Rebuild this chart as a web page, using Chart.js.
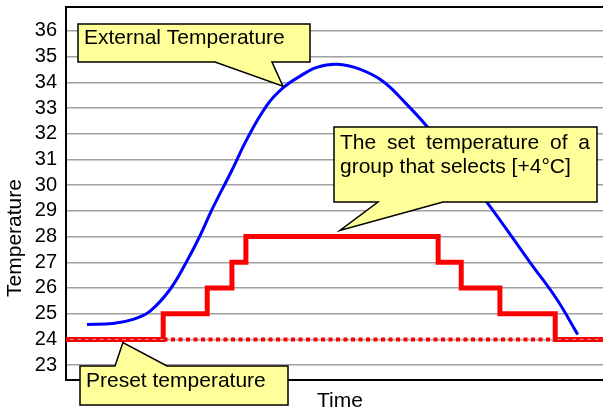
<!DOCTYPE html>
<html>
<head>
<meta charset="utf-8">
<script src="https://cdn.jsdelivr.net/npm/chart.js@4/dist/chart.umd.min.js"></script>
<style>
    html, body { margin: 0; padding: 0; background: #fff; }
    #chart { display: block; }
</style>
</head>
<body>
<canvas id="chart" width="603" height="412"></canvas>
<script>
// y axis labels
const tempTicks = [23, 24, 25, 26, 27, 28, 29, 30, 31, 32, 33, 34, 35, 36];

// outside temperature over the day (time axis runs 0..100)
const outsideTime = [3.9, 8.75, 12.5, 15.6, 19.4, 22.5, 25, 27.2, 30.9, 33.7, 37.4, 40.4, 43.6, 46.7, 50.5, 54.7, 59.0, 63.1, 67.2, 72.8, 78.4, 86.4, 91.4, 95.3];
const outsideTemp = [24.58, 24.62, 24.78, 25.09, 25.95, 27.04, 28.05, 29.06, 30.58, 31.79, 33.1, 33.78, 34.24, 34.58, 34.70, 34.51, 34.04, 33.22, 32.29, 30.81, 29.33, 27.0, 25.56, 24.19];

// group set temperature, one step per degree
const setTime = [0, 18.1, 26.3, 30.9, 33.5, 69.3, 73.6, 80.8, 91.1, 100];
const setTemp = [24, 25, 26, 27, 28, 27, 26, 25, 24, 24];

const presetTime = [0, 100];
const presetTemp = [24, 24];

const FONT = '"Liberation Sans", Arial, sans-serif';

const pts = (xs, ys) => xs.map((x, i) => ({ x, y: ys[i] }));

// speech-bubble notes; box/base in canvas px, tip in data units
const callouts = [
    { lines: ["External Temperature"], box: [78, 24, 310, 62], side: "bottom", base: [215, 272], tip: [40.4, 33.85], textX: 84, baselines: [44] },
    { lines: ["The set temperature of a", "group that selects [+4°C]"], justify: [true, false], box: [334, 127, 597, 202], side: "bottom", base: [378, 443], tip: [51.0, 28.24], textX: 340, textRight: 590, baselines: [149, 173] },
    { lines: ["Preset temperature"], box: [80, 366, 288, 405], side: "top", base: [115, 167], tip: [10.6, 23.88], textX: 86, baselines: [387] },
];

function drawJustified(ctx, text, x, right, y) {
    const words = text.split(" ");
    const widths = words.map((w) => ctx.measureText(w).width);
    const total = widths.reduce((a, b) => a + b, 0);
    const gap = (right - x - total) / (words.length - 1);
    let cx = x;
    words.forEach((w, i) => {
        ctx.fillText(w, cx, y);
        cx += widths[i] + gap;
    });
}

const decorations = {
    id: "decorations",
    afterDraw(chart) {
        const { ctx, chartArea, scales } = chart;
        ctx.save();

        // top frame line
        ctx.strokeStyle = "#000";
        ctx.lineWidth = 2;
        ctx.beginPath();
        ctx.moveTo(chartArea.left - 1, chartArea.top);
        ctx.lineTo(chartArea.right, chartArea.top);
        ctx.stroke();

        // axis titles
        ctx.fillStyle = "#000";
        ctx.font = "21px " + FONT;
        ctx.textAlign = "center";
        ctx.textBaseline = "middle";
        ctx.fillText("Time", 340, 401);
        ctx.save();
        ctx.translate(15, 238);
        ctx.rotate(-Math.PI / 2);
        ctx.fillText("Temperature", 0, 0);
        ctx.restore();

        // callouts
        callouts.forEach((c) => {
            const [l, t, r, b] = c.box;
            const tx = scales.x.getPixelForValue(c.tip[0]);
            const ty = scales.y.getPixelForValue(c.tip[1]);
            ctx.beginPath();
            if (c.side === "bottom") {
                ctx.moveTo(l, t);
                ctx.lineTo(r, t);
                ctx.lineTo(r, b);
                ctx.lineTo(c.base[1], b);
                ctx.lineTo(tx, ty);
                ctx.lineTo(c.base[0], b);
                ctx.lineTo(l, b);
            } else {
                ctx.moveTo(l, t);
                ctx.lineTo(c.base[0], t);
                ctx.lineTo(tx, ty);
                ctx.lineTo(c.base[1], t);
                ctx.lineTo(r, t);
                ctx.lineTo(r, b);
                ctx.lineTo(l, b);
            }
            ctx.closePath();
            ctx.fillStyle = "#ffff99";
            ctx.fill();
            ctx.lineWidth = 1.5;
            ctx.strokeStyle = "#000";
            ctx.stroke();

            ctx.fillStyle = "#000";
            ctx.font = "21px " + FONT;
            ctx.textAlign = "left";
            ctx.textBaseline = "alphabetic";
            c.lines.forEach((line, i) => {
                if (c.justify && c.justify[i]) {
                    drawJustified(ctx, line, c.textX, c.textRight, c.baselines[i]);
                } else {
                    ctx.fillText(line, c.textX, c.baselines[i]);
                }
            });
        });

        ctx.restore();
    },
};

new Chart(document.getElementById("chart"), {
    type: "line",
    data: {
        datasets: [
            {
                label: "External Temperature",
                data: pts(outsideTime, outsideTemp),
                borderColor: "#0000ff",
                borderWidth: 3,
                tension: 0.4,
                pointRadius: 0,
            },
            {
                label: "Preset temperature",
                data: pts(presetTime, presetTemp),
                borderColor: "#ff0000",
                borderWidth: 4,
                borderDash: [4, 3.5],
                borderCapStyle: "butt",
                pointRadius: 0,
            },
            {
                // gridline at 24 shows through the dotted line
                label: "grid24",
                data: pts(presetTime, presetTemp),
                borderColor: "#b0b0b0",
                borderWidth: 1,
                pointRadius: 0,
            },
            {
                label: "Set temperature",
                data: pts(setTime, setTemp),
                borderColor: "#ff0000",
                borderWidth: 5,
                stepped: "before",
                pointRadius: 0,
            },
        ],
    },
    options: {
        responsive: false,
        animation: false,
        devicePixelRatio: 1,
        layout: { padding: { top: 7, right: 0, left: 0, bottom: 0 } },
        plugins: { legend: { display: false }, tooltip: { enabled: false } },
        scales: {
            x: {
                type: "linear",
                min: 0,
                max: 100,
                ticks: { display: false },
                grid: { display: false },
                border: { color: "#000", width: 2 },
                afterFit: (s) => { s.height = 32; s.paddingLeft = 0; s.paddingRight = 0; },
            },
            y: {
                min: 22.42,
                max: 36.93,
                afterBuildTicks: (s) => { s.ticks = tempTicks.map((v) => ({ value: v })); },
                ticks: { font: { size: 20, family: FONT }, color: "#000", padding: 9 },
                grid: { color: "#a0a0a0", lineWidth: 1.5, drawTicks: false },
                border: { color: "#000", width: 2 },
                // labels sit well inside the range, so no extra room above/below
                afterFit: (s) => { s.width = 66; s.paddingTop = 0; s.paddingBottom = 0; },
            },
        },
    },
    plugins: [decorations],
});
</script>
</body>
</html>
